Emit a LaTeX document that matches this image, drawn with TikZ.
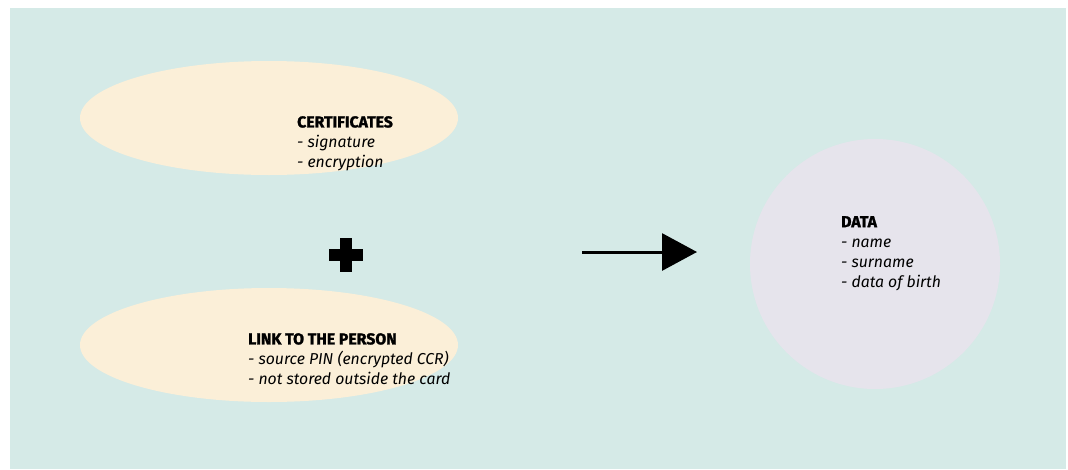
\documentclass[tikz,border=0pt]{standalone}
\usepackage{fontspec}
\setsansfont{Fira Sans}[BoldFeatures={FakeBold=1.6}]
\usepackage{tikz}
\usetikzlibrary{arrows.meta,shapes.geometric}

\definecolor{bgteal}{HTML}{D5EAE7}
\definecolor{cream}{HTML}{FBEFD8}
\definecolor{lilac}{HTML}{E6E4EC}

\tikzset{
  blob/.style={ellipse, fill=cream, draw=none, minimum width=378pt, minimum height=114pt},
  infotext/.style={anchor=north west, inner sep=0pt, align=left,
    font=\sffamily\fontsize{15.8}{20}\selectfont},
}

\begin{document}
\begin{tikzpicture}[x=1pt,y=-1pt]
  \useasboundingbox (0,0) rectangle (1068,469);
  \fill[bgteal] (10,8) rectangle (1066,469);

  \node[blob] (cert) at (269,118) {};
  \node[blob] (link) at (269,345) {};
  \node[circle, fill=lilac, minimum size=250pt] (data) at (875,264) {};

  \node[infotext] (certtext) at (297,116) {\textbf{CERTIFICATES}\\\textit{- signature}\\\textit{- encryption}};
  \node[infotext] (linktext) at (248,333) {\textbf{LINK TO THE PERSON}\\\textit{- source PIN (encrypted CCR)}\\\textit{- not stored outside the card}};
  \node[infotext] (datatext) at (841,216) {\textbf{DATA}\\\textit{- name}\\\textit{- surname}\\\textit{- data of birth}};

  % plus sign
  \fill (340,238) rectangle (352,272);
  \fill (329,249) rectangle (363,261);

  % arrow
  \coordinate (arrowfrom) at (582,252);
  \coordinate (arrowto) at (697,252);
  \draw[line width=3pt, -{Triangle[width=37pt,length=35pt]}] (arrowfrom) -- (arrowto);

\end{tikzpicture}
\end{document}
